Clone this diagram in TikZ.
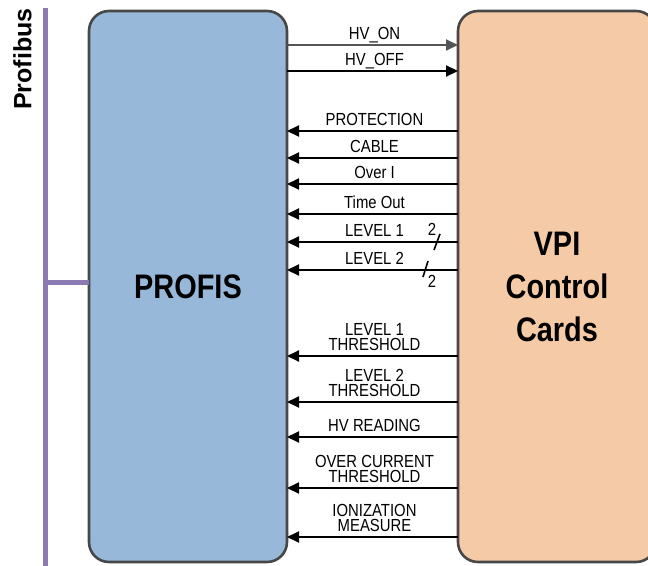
\documentclass[tikz,border=0pt]{standalone}
\usepackage{fontspec}
\setmainfont[FakeStretch=0.85]{Liberation Sans}
\newfontfamily\busfont{Liberation Sans}
\usetikzlibrary{arrows.meta}

\definecolor{profisblue}{HTML}{97B8D9}
\definecolor{vpiorange}{HTML}{F5CBA7}
\definecolor{boxline}{HTML}{474747}
\definecolor{buspurple}{HTML}{8C7AB3}
\definecolor{grayarrow}{HTML}{555555}

\tikzset{
  unitbox/.style={draw=boxline, line width=2.6pt, rounded corners=20pt,
    inner sep=0pt, outer sep=0pt, align=center,
    font=\bfseries\fontsize{34}{43}\selectfont},
  sig/.style={line width=2pt, -{Triangle[length=12pt,width=11pt]}},
  lab/.style={above=4.5pt, xshift=2pt, inner sep=0pt, text depth=0pt, align=center,
    font=\fontsize{17.5}{15.5}\selectfont},
  bus/.style={draw=buspurple, line width=5pt},
  busmark/.style={line width=1.6pt},
  count/.style={inner sep=0pt, font=\fontsize{17.5}{17.5}\selectfont},
}

\begin{document}
\begin{tikzpicture}[x=1pt,y=-1pt]
\useasboundingbox (0,0) rectangle (648,565);

% main units
\node[unitbox, fill=profisblue, minimum width=198pt, minimum height=551pt]
  (profis) at (188,286.5) {PROFIS};
\node[unitbox, fill=vpiorange, minimum width=198pt, minimum height=551pt]
  (vpi) at (557,286.5) {VPI\\Control\\Cards};

% field bus
\coordinate (bustop) at (45,8);
\coordinate (busbot) at (45,566);
\coordinate (tap) at (45,282);
\draw[bus] (bustop) -- (busbot);
\draw[bus] (tap) -- (profis.west |- tap);
\node[rotate=90, inner sep=0pt, font=\busfont\bfseries\fontsize{25}{25}\selectfont]
  (busname) at (22.5,59) {Profibus};

% commands to the control cards
\draw[sig, draw=grayarrow] (profis.east |- 0,45) -- node[lab]{HV\_ON} (vpi.west |- 0,45);
\draw[sig] (profis.east |- 0,71) -- node[lab]{HV\_OFF} (vpi.west |- 0,71);

% status and readings back to PROFIS
\foreach \yy/\txt in {131/PROTECTION, 158/CABLE, 184/Over I, 214/Time Out,
    242/LEVEL 1, 270/LEVEL 2,
    356/{LEVEL 1\\THRESHOLD}, 402/{LEVEL 2\\THRESHOLD}, 437/HV READING,
    488/{OVER CURRENT\\THRESHOLD}, 537/{IONIZATION\\MEASURE}}
  \draw[sig] (vpi.west |- 0,\yy) -- node[lab]{\txt} (profis.east |- 0,\yy);

% bus width marks on the level lines
\coordinate (m1a) at (440,234);
\coordinate (m1b) at (434,250);
\draw[busmark] (m1a) -- (m1b);
\node[count] (n1) at (432,229) {2};
\coordinate (m2a) at (428,261);
\coordinate (m2b) at (423,277);
\draw[busmark] (m2a) -- (m2b);
\node[count] (n2) at (432,281) {2};
\end{tikzpicture}
\end{document}
